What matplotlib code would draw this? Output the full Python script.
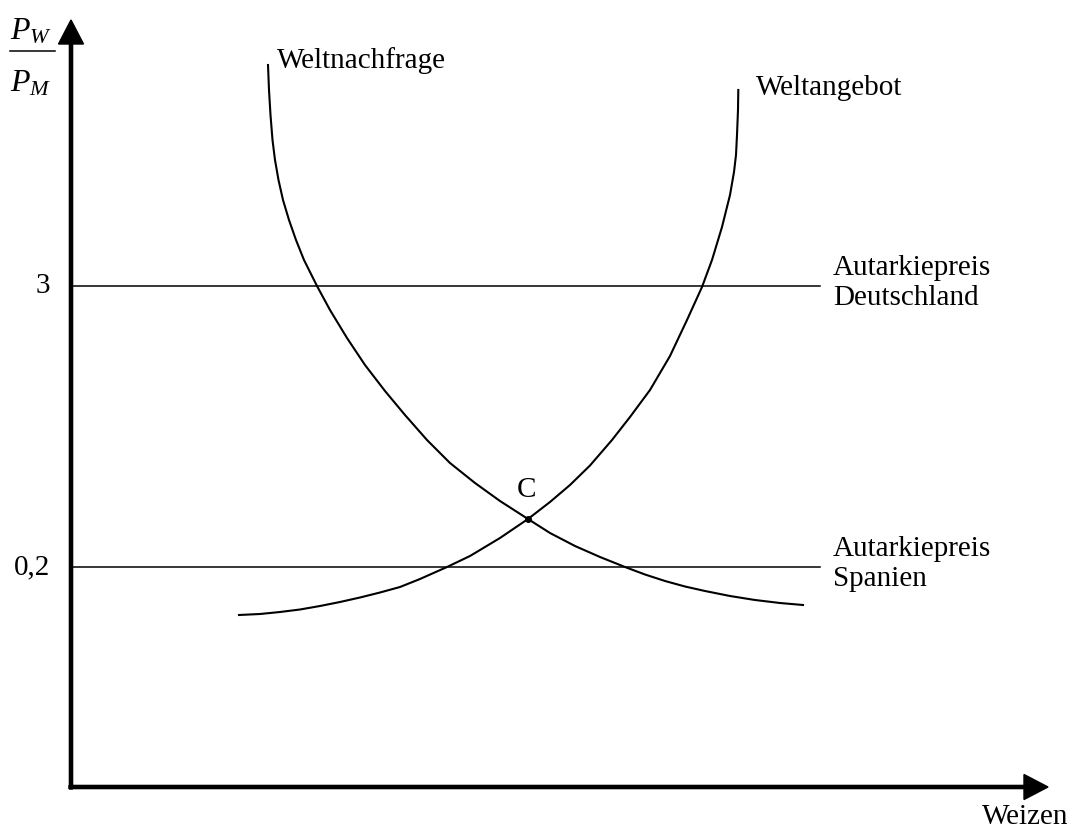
import matplotlib.pyplot as plt

plt.rcParams['font.family'] = ['Liberation Serif', 'DejaVu Serif']
plt.rcParams['mathtext.fontset'] = 'custom'
plt.rcParams['mathtext.rm'] = 'Liberation Serif'
plt.rcParams['mathtext.it'] = 'Liberation Serif:italic'

# world demand curve (px from top-left)
demand_px = [268, 269, 270.5, 272.5, 275, 278.5, 283, 289, 296, 304, 317, 330, 347, 365,
             385, 405, 427, 450, 475, 500, 528, 550, 575, 600, 625, 645, 665, 685, 705,
             730, 755, 780, 803]
demand_py = [65, 90, 115, 140, 160, 180, 200, 220, 240, 260, 286, 310, 338, 365,
             391, 415, 440, 463, 483, 501, 519, 533, 546, 557, 567, 574.5, 581, 586.5, 591,
             596, 600, 603, 605]

# world supply curve
supply_px = [239, 260, 280, 300, 320, 340, 360, 380, 400, 420, 447, 470, 500, 528, 550,
             570, 590, 612, 630, 650, 670, 687, 702, 712, 722, 730, 734, 736, 737, 738, 738.3]
supply_py = [615, 614, 612, 609.5, 606, 602, 597.5, 592.5, 587, 579, 567, 556, 538, 519, 502,
             485, 465.5, 440, 417, 390, 356, 320, 287, 260, 227, 195, 172, 155, 135, 110, 90]

# autarky price levels
price_labels = ['3', '0,2']
price_py = [286, 567]
price_names = [['Autarkiepreis', 'Deutschland'], ['Autarkiepreis', 'Spanien']]

# origin of the diagram in picture pixels
ox, oy = 71, 787
line_end = 820
eq_px, eq_py = 528, 519

fig = plt.figure(figsize=(10.71, 8.30), dpi=100)
ax = fig.add_axes([0, 0, 1, 1])
ax.set_xlim(-ox, 1071 - ox)
ax.set_ylim(oy - 830, oy)
ax.axis('off')

fs = 21

def X(v):
    return [p - ox for p in v]

def Y(v):
    return [oy - p for p in v]

# axes with arrows
ax.arrow(0, -2, 0, 769, width=3.2, head_width=25, head_length=24,
         length_includes_head=True, fc='black', ec='black')
ax.arrow(-2, 0, 979, 0, width=3.2, head_width=25, head_length=24,
         length_includes_head=True, fc='black', ec='black')

# horizontal price lines and labels
for lab, py, names in zip(price_labels, price_py, price_names):
    lvl = oy - py
    ax.plot([0, line_end - ox], [lvl, lvl], color='black', lw=1.1)
    ax.text(-21, lvl, lab, ha='right', va='center', fontsize=fs)
    ax.text(762, lvl + 18, names[0], ha='left', va='center', fontsize=fs)
    ax.text(762, lvl - 12, names[1], ha='left', va='center', fontsize=fs)

ax.plot(X(demand_px), Y(demand_py), color='black', lw=1.5)
ax.plot(X(supply_px), Y(supply_py), color='black', lw=1.5)
ax.plot(X([eq_px]), Y([eq_py]), 'o', color='black', ms=4)
ax.text(eq_px - ox - 1, oy - eq_py + 29, 'C', ha='center', va='center', fontsize=fs)

ax.text(206, 726, 'Weltnachfrage', ha='left', va='center', fontsize=fs)
ax.text(685, 699, 'Weltangebot', ha='left', va='center', fontsize=fs)
ax.text(997, -30, 'Weizen', ha='right', va='center', fontsize=fs)

# y axis label P_W / P_M
ax.text(-40, 747, r'$P_W$', ha='center', va='baseline', fontsize=fs + 2)
ax.plot([-61, -16], [736, 736], color='black', lw=1.1)
ax.text(-40, 695, r'$P_M$', ha='center', va='baseline', fontsize=fs + 2)

plt.savefig('out.png', dpi=100)
plt.close()
